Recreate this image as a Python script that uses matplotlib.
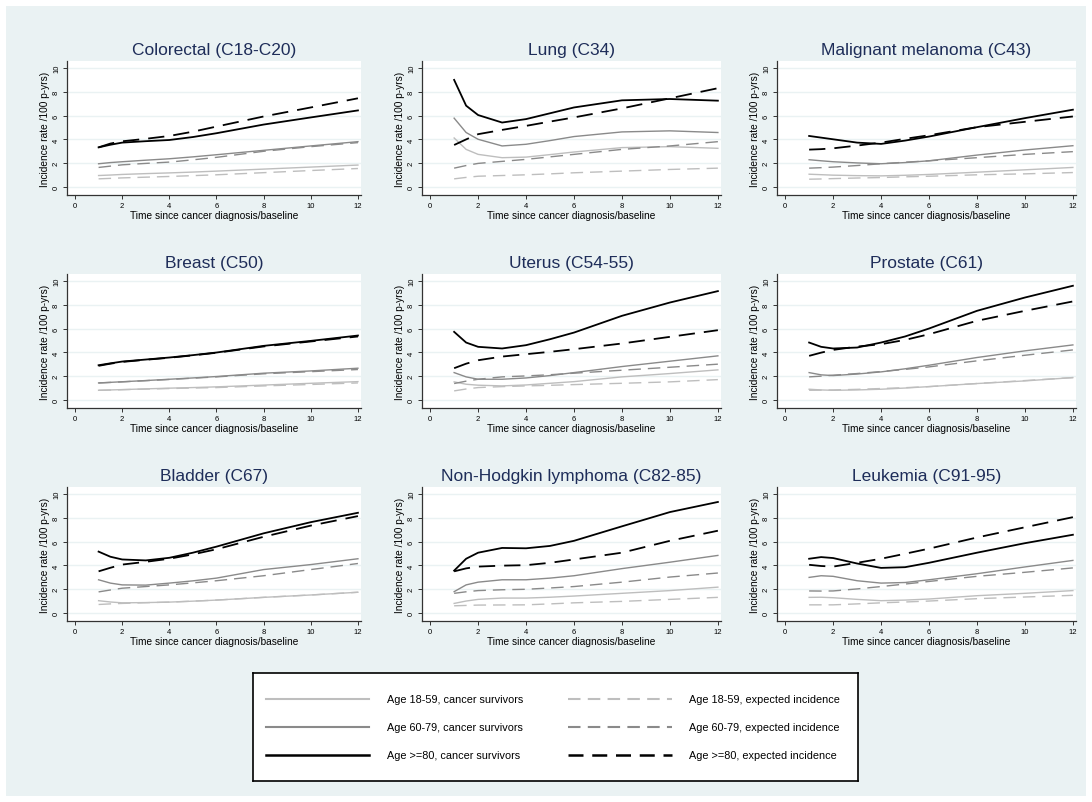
import numpy as np
import matplotlib
matplotlib.use('Agg')
import matplotlib.pyplot as plt
from matplotlib.patches import Rectangle
from matplotlib.lines import Line2D

plt.rcParams['font.family'] = ['Liberation Sans', 'DejaVu Sans']

# time points (years since diagnosis / baseline)
x = [1, 1.5, 2, 3, 4, 5, 6, 8, 10, 12]

titles = ['Colorectal (C18-C20)', 'Lung (C34)', 'Malignant melanoma (C43)',
          'Breast (C50)', 'Uterus (C54-55)', 'Prostate (C61)',
          'Bladder (C67)', 'Non-Hodgkin lymphoma (C82-85)', 'Leukemia (C91-95)']

# survivors (s) and expected incidence (e) per age group, one list per panel
s18 = [
    [0.96, 1.0, 1.05, 1.12, 1.18, 1.25, 1.33, 1.5, 1.67, 1.84],
    [4.12, 3.16, 2.74, 2.46, 2.51, 2.72, 2.94, 3.31, 3.39, 3.25],
    [1.07, 1.03, 0.99, 0.95, 0.93, 0.98, 1.05, 1.24, 1.44, 1.64],
    [0.81, 0.84, 0.87, 0.93, 0.99, 1.04, 1.1, 1.25, 1.4, 1.54],
    [1.52, 1.32, 1.24, 1.18, 1.26, 1.4, 1.54, 1.94, 2.22, 2.53],
    [0.9, 0.84, 0.81, 0.84, 0.9, 1.0, 1.12, 1.38, 1.6, 1.88],
    [1.03, 0.92, 0.85, 0.87, 0.91, 0.99, 1.08, 1.31, 1.51, 1.74],
    [0.8, 1.0, 1.14, 1.25, 1.25, 1.32, 1.42, 1.65, 1.88, 2.17],
    [1.31, 1.32, 1.28, 1.14, 1.03, 1.08, 1.17, 1.45, 1.65, 1.88],
]
e18 = [
    [0.68, 0.72, 0.76, 0.82, 0.88, 0.95, 1.02, 1.2, 1.38, 1.55],
    [0.68, 0.8, 0.9, 0.96, 1.02, 1.1, 1.19, 1.33, 1.47, 1.58],
    [0.65, 0.67, 0.7, 0.75, 0.79, 0.85, 0.9, 1.02, 1.1, 1.21],
    [0.81, 0.83, 0.86, 0.91, 0.96, 1.0, 1.04, 1.18, 1.3, 1.43],
    [0.76, 0.92, 1.04, 1.12, 1.18, 1.23, 1.29, 1.4, 1.52, 1.71],
    [0.81, 0.82, 0.84, 0.89, 0.96, 1.03, 1.12, 1.38, 1.63, 1.88],
    [0.71, 0.76, 0.8, 0.86, 0.91, 0.99, 1.08, 1.31, 1.51, 1.74],
    [0.6, 0.63, 0.66, 0.67, 0.68, 0.76, 0.85, 0.97, 1.14, 1.31],
    [0.68, 0.68, 0.68, 0.76, 0.85, 0.92, 1.0, 1.2, 1.34, 1.48],
]
s60 = [
    [1.95, 2.05, 2.12, 2.25, 2.37, 2.53, 2.71, 3.08, 3.45, 3.81],
    [5.79, 4.58, 4.01, 3.45, 3.59, 3.9, 4.24, 4.63, 4.72, 4.58],
    [2.29, 2.2, 2.12, 2.02, 1.95, 2.05, 2.2, 2.68, 3.11, 3.47],
    [1.43, 1.48, 1.53, 1.63, 1.74, 1.85, 1.97, 2.25, 2.44, 2.67],
    [2.3, 1.94, 1.74, 1.74, 1.85, 2.05, 2.3, 2.81, 3.26, 3.71],
    [2.3, 2.11, 2.05, 2.18, 2.36, 2.62, 2.92, 3.57, 4.13, 4.63],
    [2.79, 2.51, 2.36, 2.34, 2.51, 2.7, 2.93, 3.65, 4.07, 4.56],
    [1.79, 2.36, 2.59, 2.79, 2.79, 2.93, 3.13, 3.73, 4.27, 4.84],
    [2.99, 3.13, 3.08, 2.71, 2.51, 2.56, 2.79, 3.3, 3.87, 4.42],
]
e60 = [
    [1.64, 1.75, 1.86, 1.98, 2.09, 2.28, 2.49, 3.0, 3.39, 3.73],
    [1.58, 1.8, 1.98, 2.15, 2.32, 2.53, 2.74, 3.16, 3.45, 3.81],
    [1.58, 1.62, 1.67, 1.8, 1.95, 2.08, 2.2, 2.46, 2.74, 2.97],
    [1.43, 1.47, 1.52, 1.62, 1.72, 1.83, 1.94, 2.2, 2.38, 2.56],
    [1.38, 1.58, 1.74, 1.94, 2.02, 2.12, 2.25, 2.5, 2.75, 3.01],
    [1.94, 2.0, 2.08, 2.22, 2.39, 2.57, 2.78, 3.29, 3.76, 4.21],
    [1.77, 1.93, 2.08, 2.22, 2.36, 2.53, 2.71, 3.13, 3.65, 4.16],
    [1.65, 1.78, 1.88, 1.95, 1.99, 2.1, 2.22, 2.59, 3.02, 3.36],
    [1.85, 1.84, 1.85, 2.02, 2.22, 2.43, 2.65, 3.08, 3.42, 3.79],
]
s80 = [
    [3.33, 3.55, 3.73, 3.85, 3.95, 4.2, 4.52, 5.25, 5.85, 6.44],
    [9.01, 6.84, 6.05, 5.42, 5.71, 6.2, 6.69, 7.29, 7.4, 7.26],
    [4.29, 4.15, 4.01, 3.73, 3.62, 3.9, 4.24, 5.03, 5.79, 6.5],
    [2.92, 3.08, 3.23, 3.4, 3.57, 3.77, 3.99, 4.55, 4.97, 5.42],
    [5.73, 4.83, 4.47, 4.33, 4.61, 5.11, 5.67, 7.08, 8.2, 9.16],
    [4.83, 4.47, 4.33, 4.41, 4.83, 5.34, 6.01, 7.5, 8.62, 9.61],
    [5.16, 4.73, 4.5, 4.42, 4.64, 5.07, 5.58, 6.7, 7.64, 8.43],
    [3.56, 4.56, 5.07, 5.47, 5.44, 5.64, 6.07, 7.29, 8.49, 9.34],
    [4.56, 4.7, 4.62, 4.16, 3.79, 3.85, 4.22, 5.07, 5.87, 6.58],
]
e80 = [
    [3.33, 3.65, 3.84, 4.05, 4.29, 4.65, 5.08, 5.93, 6.69, 7.46],
    [3.53, 4.0, 4.44, 4.8, 5.14, 5.5, 5.85, 6.61, 7.46, 8.31],
    [3.14, 3.18, 3.25, 3.48, 3.73, 4.05, 4.35, 5.03, 5.48, 5.93],
    [2.87, 3.05, 3.2, 3.38, 3.55, 3.75, 3.97, 4.5, 4.92, 5.34],
    [2.67, 3.05, 3.34, 3.65, 3.85, 4.05, 4.27, 4.75, 5.31, 5.87],
    [3.71, 3.98, 4.21, 4.49, 4.69, 5.05, 5.53, 6.66, 7.5, 8.29],
    [3.5, 3.8, 4.07, 4.3, 4.56, 4.93, 5.36, 6.41, 7.35, 8.15],
    [3.5, 3.75, 3.9, 3.98, 4.02, 4.22, 4.5, 5.07, 6.07, 6.92],
    [4.05, 3.95, 3.9, 4.22, 4.56, 4.98, 5.41, 6.35, 7.21, 8.06],
]

legend_labels = ['Age 18-59, cancer survivors', 'Age 60-79, cancer survivors',
                 'Age >=80, cancer survivors', 'Age 18-59, expected incidence',
                 'Age 60-79, expected incidence', 'Age >=80, expected incidence']

bg = '#EAF2F3'
navy = '#1E2D59'
light = '#BEBEBE'
mid = '#8A8A8A'
dash = (9, 5)

W, H = 1092, 803
fig = plt.figure(figsize=(W / 100, H / 100), dpi=100)
fig.patch.set_facecolor('white')
fig.add_artist(Rectangle((6 / W, 6 / H), (W - 12) / W, (H - 13) / H,
                         transform=fig.transFigure, facecolor=bg, edgecolor='none', zorder=-10))

lefts = [67, 422, 777]
widths = [294, 299, 299]
tops = [62, 275, 488]
ph = 134

series = [(s18, light, '-', 1.0), (s60, mid, '-', 1.0), (s80, 'black', '-', 1.3),
          (e18, light, '--', 1.0), (e60, mid, '--', 1.0), (e80, 'black', '--', 1.3)]

for i, title in enumerate(titles):
    r, c = divmod(i, 3)
    ax = fig.add_axes([lefts[c] / W, 1 - (tops[r] + ph) / H, widths[c] / W, ph / H])
    ax.set_facecolor('white')
    for data, col, ls, lw in series:
        if ls == '--':
            ax.plot(x, data[i], color=col, lw=lw, dashes=dash)
        else:
            ax.plot(x, data[i], color=col, lw=lw)
    ax.set_xlim(-0.34, 12.13)
    ax.set_ylim(-0.68, 10.6)
    ax.set_xticks(range(0, 13, 2))
    ax.set_yticks(range(0, 11, 2))
    ax.grid(axis='y', color=bg, lw=1.0)
    ax.set_axisbelow(True)
    for sp in ['top', 'right']:
        ax.spines[sp].set_visible(False)
    for sp in ['left', 'bottom']:
        ax.spines[sp].set_color('#333333')
        ax.spines[sp].set_linewidth(0.9)
    ax.tick_params(length=3, width=0.7, color='#333333', labelsize=5.5, pad=2)
    for lab in ax.get_yticklabels():
        lab.set_rotation(90)
        lab.set_va('center')
    ax.set_title(title, fontsize=12.5, color=navy, pad=5)
    ax.set_xlabel('Time since cancer diagnosis/baseline', fontsize=7.3, labelpad=1)
    ax.set_ylabel('Incidence rate /100 p-yrs)', fontsize=7.3, labelpad=2)

# legend box
lx0, ly0, lx1, ly1 = 253, 674, 858, 782
lax = fig.add_axes([lx0 / W, 1 - ly1 / H, (lx1 - lx0) / W, (ly1 - ly0) / H])
lax.set_xlim(lx0, lx1)
lax.set_ylim(ly1, ly0)
lax.set_xticks([])
lax.set_yticks([])
for sp in lax.spines.values():
    sp.set_linewidth(1.2)
    sp.set_color('black')
rows = [700, 728, 756]
cols = [(266, 369, 387), (568, 672, 689)]
for k, (data, col, ls, lw) in enumerate(series):
    cx = cols[k // 3]
    yy = rows[k % 3]
    ln = Line2D([cx[0], cx[1]], [yy, yy], color=col, lw=lw + 0.5)
    if ls == '--':
        ln.set_dashes((6, 3.5))
    lax.add_line(ln)
    lax.text(cx[2], yy, legend_labels[k], fontsize=7.8, va='center', ha='left')

fig.savefig('out.png', dpi=100, facecolor='white')
